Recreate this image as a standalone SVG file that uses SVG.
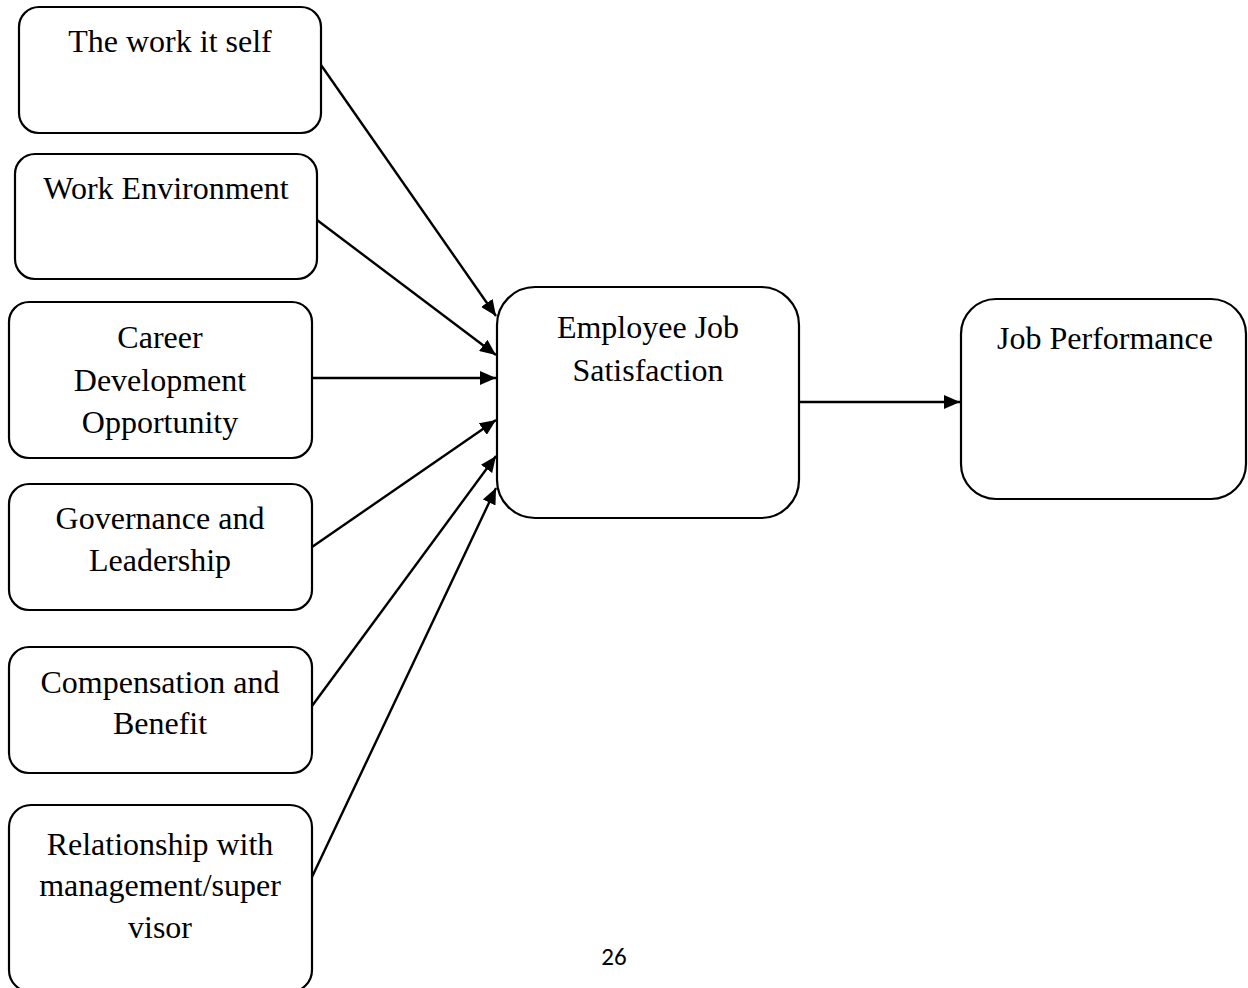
<svg xmlns="http://www.w3.org/2000/svg" width="1248" height="988" viewBox="0 0 1248 988">
<style>
.box{fill:#fff;stroke:#000;stroke-width:2.2}
.lbl{font-family:"Liberation Serif","Times New Roman",serif;font-size:32px;fill:#000;text-anchor:middle}
.con{stroke:#000;stroke-width:2.4;fill:none;marker-end:url(#ah)}
.pg{font-family:"Carlito","Liberation Sans",Arial,sans-serif;font-size:25px;fill:#000;text-anchor:middle}
</style>
<defs>
<marker id="ah" viewBox="0 0 16 14" refX="16" refY="7" markerWidth="16" markerHeight="14" markerUnits="userSpaceOnUse" orient="auto">
<path d="M0,0 L16,7 L0,14 z" fill="#000"/>
</marker>
</defs>
<rect width="1248" height="988" fill="#fff"/>
<g id="n1"><rect class="box" x="19" y="7" width="302" height="126" rx="20"/><text class="lbl" x="170" y="52">The work it self</text></g>
<g id="n2"><rect class="box" x="15" y="154" width="302" height="125" rx="20"/><text class="lbl" x="166" y="199">Work Environment</text></g>
<g id="n3"><rect class="box" x="9" y="302" width="303" height="156" rx="20"/><text class="lbl" x="160" y="348">Career</text><text class="lbl" x="160" y="391">Development</text><text class="lbl" x="160" y="433">Opportunity</text></g>
<g id="n4"><rect class="box" x="9" y="484" width="303" height="126" rx="20"/><text class="lbl" x="160" y="529">Governance and</text><text class="lbl" x="160" y="571">Leadership</text></g>
<g id="n5"><rect class="box" x="9" y="647" width="303" height="126" rx="20"/><text class="lbl" x="160" y="693">Compensation and</text><text class="lbl" x="160" y="734">Benefit</text></g>
<g id="n6"><rect class="box" x="9" y="805" width="303" height="187" rx="22"/><text class="lbl" x="160" y="855">Relationship with</text><text class="lbl" x="160" y="896">management/super</text><text class="lbl" x="160" y="938">visor</text></g>
<g id="n7"><rect class="box" x="497" y="287" width="302" height="231" rx="38"/><text class="lbl" x="648" y="338">Employee Job</text><text class="lbl" x="648" y="381">Satisfaction</text></g>
<g id="n8"><rect class="box" x="961" y="299" width="285" height="200" rx="35"/><text class="lbl" x="1105" y="349">Job Performance</text></g>
<g id="connectors">
<line class="con" x1="321" y1="65" x2="496" y2="316"/>
<line class="con" x1="317" y1="220" x2="496" y2="355"/>
<line class="con" x1="312" y1="378" x2="496" y2="378"/>
<line class="con" x1="312" y1="547" x2="496" y2="420"/>
<line class="con" x1="312" y1="706" x2="496" y2="456"/>
<line class="con" x1="312" y1="877" x2="496" y2="488"/>
<line class="con" x1="799" y1="402" x2="960" y2="402"/>
</g>
<text class="pg" x="614" y="965">26</text>
</svg>
